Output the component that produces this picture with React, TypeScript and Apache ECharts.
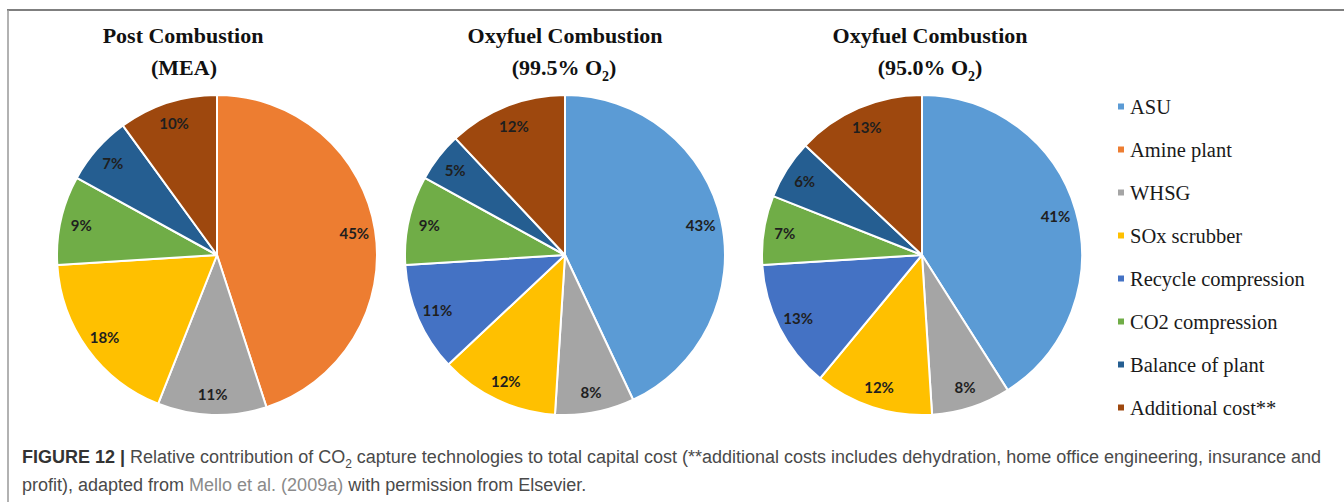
import React, { useEffect, useRef } from "react";
import * as echarts from "echarts";

const categories = [
  "ASU",
  "Amine plant",
  "WHSG",
  "SOx scrubber",
  "Recycle compression",
  "CO2 compression",
  "Balance of plant",
  "Additional cost**",
];
const colors = ["#5B9BD5", "#ED7D31", "#A5A5A5", "#FFC000", "#4472C4", "#70AD47", "#255E91", "#9E480E"];
const postMEA = [0, 45, 11, 18, 0, 9, 7, 10];
const oxy995 = [43, 0, 8, 12, 11, 9, 5, 12];
const oxy950 = [41, 0, 8, 12, 13, 7, 6, 13];

const pies = [
  { values: postMEA, center: [217, 255] },
  { values: oxy995, center: [565, 255] },
  { values: oxy950, center: [922, 255] },
];
const R = 160;

function buildData(values: number[]) {
  return categories
    .map((name, i) => ({ name, value: values[i], itemStyle: { color: colors[i] } }))
    .filter((d) => d.value > 0);
}

export default function App() {
  const ref = useRef<HTMLDivElement>(null);
  useEffect(() => {
    document.body.style.margin = "0";
    const chart = echarts.init(ref.current!, null, { renderer: "svg" });
    const serif = "'Liberation Serif', 'Times New Roman', serif";
    const sans = "'Liberation Sans', Arial, sans-serif";
    const series: any[] = [];
    pies.forEach((p) => {
      series.push({
        type: "pie",
        center: p.center,
        radius: [0, R],
        startAngle: 90,
        clockwise: true,
        avoidLabelOverlap: false,
        data: buildData(p.values),
        itemStyle: { borderColor: "#ffffff", borderWidth: 2 },
        label: { show: false },
        labelLine: { show: false },
        emphasis: { disabled: true },
      });
    });
    pies.forEach((p) => {
      series.push({
        type: "pie",
        center: p.center,
        radius: [112, R],
        startAngle: 90,
        clockwise: true,
        silent: true,
        avoidLabelOverlap: false,
        data: buildData(p.values).map((d) => ({ ...d, itemStyle: { color: "rgba(0,0,0,0)" } })),
        itemStyle: { color: "rgba(0,0,0,0)", borderWidth: 0 },
        label: {
          show: true,
          position: "inside",
          formatter: (prm: any) => `${prm.value}%`,
          color: "#1f1f1f",
          fontFamily: "Lato, 'Open Sans', sans-serif",
          fontWeight: "bold",
          fontSize: 15,
        },
        labelLine: { show: false },
        emphasis: { disabled: true },
      });
    });

    const mainTok = { fontFamily: serif, fontWeight: "bold", fontSize: 22, fill: "#111111", lineHeight: 26, verticalAlign: "top" };
    const subTok = { fontFamily: serif, fontWeight: "bold", fontSize: 14, fill: "#111111", lineHeight: 14, verticalAlign: "top", padding: [13, 0, 0, 0] };
    const title = (x: number, y: number, text: string) => ({
      type: "text",
      x,
      y,
      style: {
        text,
        textAlign: "center",
        textVerticalAlign: "middle",
        rich: { m: mainTok, s: subTok },
      },
    });

    const capRich = {
      b: { fontFamily: sans, fontWeight: "bold", fontSize: 18, fill: "#333333", lineHeight: 22, verticalAlign: "top" },
      n: { fontFamily: sans, fontSize: 18, fill: "#4a4a4a", lineHeight: 22, verticalAlign: "top" },
      l: { fontFamily: sans, fontSize: 18, fill: "#8a8a8a", lineHeight: 22, verticalAlign: "top" },
      s: { fontFamily: sans, fontSize: 12, fill: "#4a4a4a", lineHeight: 12, verticalAlign: "top", padding: [10, 0, 0, 0] },
    };

    chart.setOption({
      animation: false,
      legend: {
        orient: "vertical",
        left: 1111,
        top: 91,
        data: categories,
        icon: "rect",
        itemWidth: 8,
        itemHeight: 8,
        itemGap: 22,
        selectedMode: false,
        textStyle: { fontFamily: serif, fontSize: 20.5, color: "#1a1a1a", lineHeight: 20 },
      },
      series,
      graphic: [
        { type: "line", shape: { x1: 7, y1: 10, x2: 1344, y2: 10 }, style: { stroke: "#555555", lineWidth: 1.5 } },
        { type: "line", shape: { x1: 8, y1: 10, x2: 8, y2: 502 }, style: { stroke: "#999999", lineWidth: 1.5 } },
        title(183, 37, "{m|Post Combustion}"),
        title(184, 69, "{m|(MEA)}"),
        title(565, 37, "{m|Oxyfuel Combustion}"),
        title(564, 69, "{m|(99.5% O}{s|2}{m|)}"),
        title(930, 37, "{m|Oxyfuel Combustion}"),
        title(930, 69, "{m|(95.0% O}{s|2}{m|)}"),
        {
          type: "text",
          x: 22,
          y: 459,
          style: {
            text:
              "{b|FIGURE 12 |}{n| Relative contribution of CO}{s|2}{n| capture technologies to total capital cost (**additional costs includes dehydration, home office engineering, insurance and}",
            textVerticalAlign: "middle",
            rich: capRich,
          },
        },
        {
          type: "text",
          x: 22,
          y: 487,
          style: {
            text: "{n|profit), adapted from }{l|Mello et al. (2009a)}{n| with permission from Elsevier.}",
            textVerticalAlign: "middle",
            rich: capRich,
          },
        },
      ],
    });
    return () => chart.dispose();
  }, []);
  return <div ref={ref} style={{ width: 1344, height: 502 }} />;
}
